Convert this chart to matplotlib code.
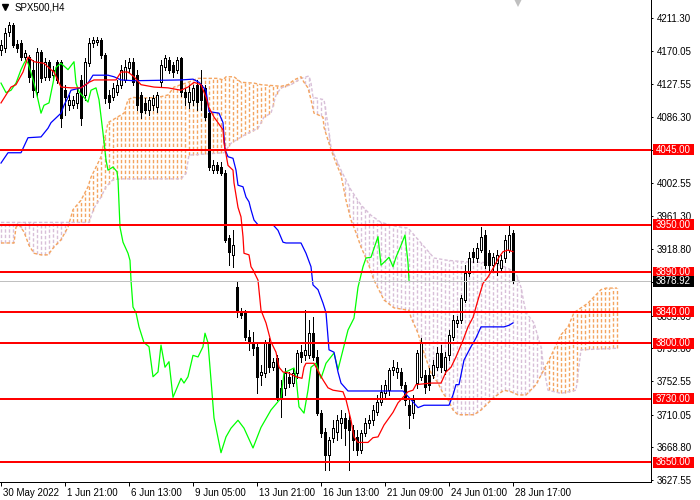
import numpy as np
import matplotlib
matplotlib.use("Agg")
import matplotlib.pyplot as plt
from matplotlib.patches import Rectangle
from matplotlib.transforms import blended_transform_factory

plt.rcParams['font.family'] = ['Liberation Sans', 'DejaVu Sans']
plt.rcParams['lines.scale_dashes'] = False

# SPX500 H4 candles (bar 0 = 30 May 2022)
opens = [4171, 4173, 4194, 4202, 4178, 4180, 4162, 4162, 4146, 4118,
         4168, 4137, 4156, 4139, 4156, 4156, 4120, 4101, 4101, 4104,
         4133, 4114, 4154, 4180, 4181, 4184, 4165, 4114, 4111, 4118,
         4127, 4133, 4148, 4156, 4139, 4114, 4104, 4095, 4101, 4099,
         4130, 4149, 4158, 4152, 4146, 4161, 4118, 4105, 4108, 4127,
         4127, 4123, 4091, 4019, 4025, 4023, 4015, 3933, 3912, 3871,
         3840, 3839, 3808, 3801, 3796, 3760, 3763, 3802, 3770, 3782,
         3744, 3744, 3758, 3750, 3763, 3789, 3786, 3786, 3813, 3783,
         3712, 3688, 3659, 3681, 3688, 3700, 3706, 3703, 3691, 3682,
         3665, 3687, 3700, 3703, 3713, 3726, 3737, 3741, 3767, 3764,
         3764, 3748, 3722, 3712, 3750, 3758, 3760, 3760, 3760, 3770,
         3788, 3767, 3786, 3808, 3826, 3830, 3855, 3889, 3916, 3908,
         3918, 3937, 3914, 3899, 3902, 3895, 3908, 3918, 3940]
highs = [4184, 4199, 4206, 4205, 4184, 4184, 4171, 4165, 4158, 4173,
         4171, 4161, 4158, 4151, 4158, 4158, 4127, 4114, 4113, 4123,
         4139, 4161, 4186, 4187, 4187, 4186, 4167, 4120, 4129, 4133,
         4152, 4158, 4161, 4161, 4146, 4118, 4110, 4111, 4114, 4118,
         4158, 4165, 4162, 4156, 4162, 4162, 4123, 4127, 4127, 4133,
         4146, 4127, 4095, 4032, 4029, 4029, 4019, 3937, 3943, 3878,
         3845, 3842, 3817, 3815, 3802, 3773, 3804, 3807, 3782, 3786,
         3754, 3769, 3764, 3769, 3792, 3798, 3842, 3830, 3834, 3792,
         3716, 3693, 3682, 3703, 3710, 3716, 3712, 3712, 3697, 3691,
         3691, 3706, 3710, 3722, 3735, 3748, 3754, 3769, 3779, 3777,
         3769, 3751, 3731, 3735, 3792, 3807, 3767, 3769, 3779, 3796,
         3798, 3789, 3817, 3836, 3835, 3861, 3899, 3916, 3921, 3927,
         3947, 3943, 3918, 3914, 3918, 3912, 3937, 3950, 3943]
lows = [4165, 4168, 4189, 4175, 4168, 4158, 4158, 4130, 4111, 4111,
        4130, 4133, 4133, 4134, 4129, 4074, 4089, 4095, 4098, 4098,
        4076, 4108, 4151, 4175, 4177, 4161, 4104, 4098, 4108, 4114,
        4123, 4130, 4143, 4127, 4095, 4085, 4091, 4089, 4095, 4093,
        4125, 4146, 4142, 4137, 4142, 4113, 4101, 4098, 4101, 4095,
        4095, 4082, 4019, 4015, 4015, 4013, 3928, 3899, 3897, 3834,
        3832, 3804, 3792, 3786, 3737, 3748, 3758, 3764, 3767, 3729,
        3707, 3735, 3745, 3746, 3756, 3777, 3779, 3782, 3779, 3710,
        3682, 3640, 3640, 3676, 3678, 3681, 3672, 3640, 3665, 3659,
        3662, 3683, 3693, 3697, 3710, 3722, 3731, 3735, 3760, 3756,
        3744, 3722, 3693, 3706, 3744, 3754, 3737, 3741, 3756, 3767,
        3764, 3761, 3779, 3804, 3821, 3826, 3852, 3885, 3903, 3903,
        3916, 3895, 3893, 3893, 3887, 3890, 3903, 3916, 3877]
closes = [4177, 4192, 4202, 4177, 4173, 4162, 4167, 4137, 4120, 4168,
          4135, 4156, 4137, 4146, 4133, 4085, 4111, 4108, 4108, 4117,
          4085, 4156, 4180, 4184, 4184, 4165, 4110, 4105, 4123, 4127,
          4146, 4149, 4156, 4130, 4101, 4093, 4095, 4108, 4110, 4114,
          4152, 4161, 4146, 4143, 4158, 4118, 4111, 4118, 4123, 4105,
          4108, 4086, 4023, 4025, 4019, 4015, 3931, 3916, 3924, 3840,
          3836, 3808, 3802, 3794, 3758, 3764, 3801, 3770, 3777, 3732,
          3732, 3763, 3750, 3763, 3788, 3783, 3792, 3813, 3783, 3712,
          3687, 3659, 3678, 3693, 3703, 3706, 3693, 3691, 3678, 3665,
          3687, 3700, 3703, 3716, 3726, 3739, 3748, 3767, 3770, 3769,
          3748, 3729, 3710, 3729, 3788, 3801, 3745, 3748, 3773, 3788,
          3770, 3783, 3811, 3830, 3830, 3858, 3889, 3908, 3909, 3921,
          3935, 3899, 3899, 3909, 3912, 3906, 3931, 3937, 3878.92]

# Ichimoku lines (bar position, price)
tenkan_x = [0, 2.5, 3.75, 5.5, 6.75, 8.25, 10.75, 12.5, 13.25, 15, 17.5, 20, 22, 23.25,
            28.75, 30, 31.75, 33.25, 35, 38.25, 41.75, 45, 46.75, 48.25, 50, 51.25, 52,
            53.25, 54.25, 55.5, 55.75, 56.75, 58, 58.25, 59.25, 60, 60.5, 60.75, 62, 62.5,
            63, 64.25, 65, 66.25, 67.5, 68.75, 69.5, 70.5, 71.75, 73.75, 75.25, 75.75,
            76.25, 78.25, 79.5, 80.5, 81.75, 83, 85.5, 86.25, 87.5, 88.25, 89.25, 91.75,
            93, 94.25, 95.75, 98, 99.25, 100.5, 101.75, 103, 103.75, 107.5, 110, 111.25,
            112.5, 113.75, 115.5, 116.75, 118, 119.25, 120.5, 121.75, 123.25, 124.5,
            125.5, 126.75, 128]
tenkan_y = [4104, 4124, 4127, 4143, 4162, 4156, 4154, 4146, 4143, 4124, 4123, 4123, 4130,
            4133, 4133, 4143, 4143, 4137, 4127, 4124, 4123, 4120, 4124, 4130, 4127, 4111,
            4098, 4086, 4079, 4070, 4053, 4025, 4019, 4003, 3972, 3960, 3935, 3914, 3912,
            3897, 3893, 3880, 3842, 3826, 3802, 3789, 3770, 3764, 3763, 3758, 3756, 3770,
            3775, 3775, 3763, 3754, 3744, 3741, 3739, 3729, 3703, 3682, 3675, 3675, 3681,
            3682, 3697, 3713, 3725, 3732, 3739, 3741, 3748, 3750, 3750, 3764, 3770, 3783,
            3804, 3821, 3833, 3855, 3876, 3884, 3897, 3909, 3916, 3918, 3916]

kijun_x = [0, 1.75, 5, 6.75, 10, 11.75, 12.5, 15, 15.75, 16.75, 17.5, 20, 21.75, 23,
           26.75, 28.25, 30, 33.25, 45, 48, 49.5, 51.25, 52, 54.5, 55.5, 56, 56.75, 58,
           58.75, 59.25, 60.5, 61.25, 62, 62.5, 63.25, 64.25, 68, 69.25, 70.5, 71.25, 75,
           76.25, 77.5, 78, 79.25, 80.5, 81.25, 81.75, 82, 83.25, 84.25, 85, 86.75, 100.5,
           102.5, 104.25, 105.75, 112, 113, 113.75, 114.5, 115.75, 117.5, 118.75, 120,
           125.75, 127, 128]
kijun_y = [4028, 4041, 4041, 4060, 4061, 4072, 4079, 4091, 4101, 4111, 4120, 4123, 4129,
           4139, 4139, 4137, 4133, 4132, 4133, 4134, 4130, 4120, 4093, 4091, 4079, 4045,
           4036, 4034, 4019, 4000, 3998, 3985, 3979, 3969, 3956, 3950, 3950, 3943, 3928,
           3927, 3927, 3914, 3897, 3874, 3868, 3851, 3839, 3808, 3792, 3789, 3764, 3750,
           3740, 3740, 3729, 3719, 3722, 3722, 3735, 3748, 3748, 3779, 3796, 3807, 3821,
           3821, 3823, 3826]

chikou_x = [0, 1.25, 2.5, 3.75, 5, 5.75, 6.25, 6.75, 7.5, 8.25,
            9.25, 10, 10.75, 12, 13, 13.75, 15, 16.75, 18.25, 18.75,
            19.5, 20.75, 21.75, 22.5, 23.75, 24.5, 25.5, 26.25, 26.75, 28,
            29, 29.25, 29.75, 30.5, 31.75, 32.25, 32.5, 33, 33.75, 34.5,
            35, 35.75, 37, 38, 39.25, 40, 41, 42, 43, 45,
            45.75, 46.75, 48, 49.25, 50.5, 51, 51.75, 52.5, 53.25, 55,
            56.25, 57.5, 59.25, 60.75, 63, 65, 67.5, 70, 70.75, 73.25,
            73.75, 74.5, 75.75, 76.75, 77.5, 78.75, 80, 81.25, 83.25, 84.25,
            85.5, 86.75, 88.25, 89.25, 90.5, 91.25, 92.5, 94.25, 95, 96.25,
            97, 98, 98.75, 100, 101, 101.75, 102]
chikou_y = [4129, 4117, 4120, 4129, 4146, 4154, 4158, 4154, 4142, 4129,
            4108, 4091, 4101, 4104, 4129, 4149, 4154, 4146, 4156, 4129,
            4118, 4111, 4105, 4120, 4123, 4108, 4066, 4032, 4019, 4023,
            4017, 4007, 3947, 3928, 3914, 3905, 3880, 3846, 3839, 3821,
            3813, 3801, 3796, 3758, 3764, 3798, 3770, 3777, 3732, 3756,
            3750, 3758, 3785, 3783, 3796, 3813, 3801, 3754, 3706, 3662,
            3682, 3693, 3703, 3693, 3668, 3694, 3716, 3731, 3763, 3769,
            3758, 3720, 3712, 3741, 3770, 3775, 3756, 3775, 3788, 3767,
            3792, 3817, 3832, 3871, 3897, 3908, 3909, 3935, 3899, 3905,
            3909, 3897, 3909, 3924, 3937, 3902, 3880]

senkou_a_x = [0, 3.25, 3.75, 4.5, 5.75, 7, 8.25, 10, 11.75, 13.25, 15, 16.75, 18, 20,
              21.75, 22.5, 24.25, 25, 26.75, 30.75, 31.75, 33, 35, 39.25, 41.75, 43.25,
              46.75, 49.25, 51.75, 54.25, 55.5, 56.25, 58.25, 60, 63.25, 65, 70, 71.75,
              73.25, 75, 75.75, 76.75, 77.5, 78.25, 79.25, 80.5, 80.75, 81.75, 82.5, 83.75,
              85, 86.25, 87.5, 88.75, 90, 91.75, 93.25, 95.75, 98.25, 102, 102.5, 104.25,
              105.75, 107.5, 109.25, 110.5, 111.75, 113, 114.25, 118.25, 120, 123.25,
              125.75, 127.5, 129.25, 131.25, 133.75, 137, 140, 141.75, 143.25, 146.75,
              150, 151.25, 154]
senkou_a_y = [3927, 3927, 3947, 3950, 3941, 3924, 3914, 3912, 3912, 3922, 3931, 3947, 3969,
              3981, 3998, 4010, 4028, 4036, 4079, 4091, 4108, 4111, 4110, 4111, 4114, 4124,
              4130, 4135, 4135, 4135, 4133, 4137, 4137, 4130, 4129, 4127, 4125, 4127, 4133,
              4137, 4130, 4123, 4108, 4091, 4089, 4086, 4073, 4057, 4045, 4028, 4013, 3981,
              3956, 3940, 3922, 3902, 3880, 3855, 3845, 3842, 3833, 3813, 3788, 3763, 3750,
              3737, 3729, 3716, 3710, 3710, 3716, 3732, 3741, 3739, 3735, 3735, 3748, 3779,
              3811, 3821, 3839, 3851, 3868, 3870, 3870]

senkou_b_x = [0, 22, 23.25, 25, 26.25, 28, 30, 45, 46.25, 47, 55.75, 57.5, 60.75, 64.25,
              65.75, 67.5, 68.75, 70, 72.5, 75, 77, 77.5, 78, 80.75, 81.75, 82.5, 85, 87.5,
              90, 92.5, 95, 98.75, 100, 101.75, 105, 108.25, 111.75, 116.75, 123.25,
              126.75, 128.75, 130, 130.75, 131.25, 133.25, 134.25, 135, 135.75, 136.75,
              140, 143.75, 145, 154]
senkou_b_y = [3953, 3953, 3971, 3985, 3998, 4007, 4008, 4008, 4015, 4038, 4041, 4053, 4063,
              4072, 4086, 4091, 4114, 4123, 4127, 4135, 4138, 4129, 4111, 4108, 4076, 4048,
              4019, 3994, 3975, 3962, 3953, 3948, 3947, 3946, 3927, 3908, 3905, 3903, 3902,
              3895, 3889, 3871, 3851, 3839, 3826, 3808, 3796, 3767, 3741, 3737, 3741, 3792,
              3794]

levels = [4045, 3950, 3890, 3840, 3800, 3730, 3650]
last_price = 3878.92
price_ticks = [4211.30, 4170.05, 4127.55, 4086.30, 4045.05, 4002.55, 3961.30, 3918.80,
               3877.55, 3835.05, 3793.80, 3752.55, 3710.05, 3668.80, 3627.55]
hidden_ticks = [4045.05, 3877.55]  # fully covered by the level tags
time_ticks = [0, 16, 32, 48, 64, 80, 96, 112, 128]
time_labels = ['30 May 2022', '1 Jun 21:00', '6 Jun 13:00', '9 Jun 05:00', '13 Jun 21:00',
               '16 Jun 13:00', '21 Jun 09:00', '24 Jun 01:00', '28 Jun 17:00']

PX = 0.72  # one pixel in points at dpi 100
DOT = (0, (2.4, 1.5))  # ~3px on, 2px off

fig = plt.figure(figsize=(7, 5), dpi=100)
ax = fig.add_axes([0, 18 / 500, 651 / 700, 482 / 500])
ax.set_xlim(-0.25, 162.5)
ax.set_ylim(3625.0, 4234.0)

# cloud hatching, one dotted column per bar
cloud_bars = np.arange(0, 155)
span_a = np.interp(cloud_bars, senkou_a_x, senkou_a_y)
span_b = np.interp(cloud_bars, senkou_b_x, senkou_b_y)
for k, a, b in zip(cloud_bars, span_a, span_b):
    col = '#F4A460' if a >= b else '#D8BFD8'
    ax.plot([k, k], [min(a, b), max(a, b)], color=col, lw=1.0, ls=DOT,
            solid_capstyle='butt', dash_capstyle='butt', zorder=1)
ax.plot(senkou_b_x, senkou_b_y, color='#D8BFD8', lw=1.0, ls=DOT, zorder=1.2)
ax.plot(senkou_a_x, senkou_a_y, color='#F4A460', lw=1.0, ls=DOT, zorder=1.2)

# candles
bars = np.arange(len(closes))
o = np.array(opens, dtype=float)
c = np.array(closes, dtype=float)
up = c >= o
ax.vlines(bars, lows, highs, color='black', lw=PX, antialiased=False, zorder=2)
ax.bar(bars, np.maximum(np.abs(c - o), 0.6), bottom=np.minimum(o, c), width=0.5,
       color=['white' if u else 'black' for u in up], edgecolor='black',
       linewidth=PX, antialiased=False, zorder=2.1)

# ichimoku lines
ax.plot(chikou_x, chikou_y, color='#00FF00', lw=0.9, zorder=3)
ax.plot(kijun_x, kijun_y, color='#0000FF', lw=0.9, zorder=3)
ax.plot(tenkan_x, tenkan_y, color='#FF0000', lw=0.9, zorder=3)

# price lines
ax.axhline(last_price, color='#C0C0C0', lw=PX, antialiased=False, zorder=3.5)
for lv in levels:
    ax.axhline(lv, color='#FF0000', lw=2 * PX, antialiased=False, zorder=4)

# right scale
ax.yaxis.tick_right()
ax.set_yticks(price_ticks)
ax.set_yticklabels(['' if v in hidden_ticks else '%.2f' % v for v in price_ticks])
ax.tick_params(axis='y', direction='out', length=2 * PX, width=PX, pad=4 * PX,
               labelsize=7, colors='black')
ax.set_xticks(time_ticks)
ax.set_xticklabels([])
ax.tick_params(axis='x', direction='out', length=4 * PX, width=PX)
for s in ['left', 'top']:
    ax.spines[s].set_visible(False)
for s in ['right', 'bottom']:
    ax.spines[s].set_linewidth(PX)

for t, lab in zip(time_ticks, time_labels):
    ax.annotate(lab, xy=(t, 0), xycoords=('data', 'axes fraction'),
                xytext=(2, -11), textcoords='offset pixels',
                ha='left', va='center', fontsize=7, annotation_clip=False)

# level tags on the scale, drawn on the figure so they sit above the tick labels
tr = blended_transform_factory(fig.transFigure, ax.transData)
box_h = 11 * (4234.0 - 3625.0) / 482
tags = [(lv, '#FF0000', '%.2f' % lv) for lv in levels] + [(last_price, 'black', '%.2f' % last_price)]
for val, col, txt in tags:
    fig.add_artist(Rectangle((653 / 700, val - box_h / 2), 41 / 700, box_h, transform=tr,
                             facecolor=col, edgecolor='none', zorder=6))
    fig.text(673.5 / 700, val, txt, transform=tr, ha='center', va='center',
             fontsize=7, color='white', zorder=7)

# header
ax.plot([5 / 651], [1 - 7 / 482], marker='v', markersize=4, color='black',
        transform=ax.transAxes, clip_on=False)
ax.text(15 / 651, 1 - 8 / 482, 'SPX500,H4', transform=ax.transAxes,
        ha='left', va='center', fontsize=7)
ax.plot([518 / 651], [1 - 2 / 482], marker='v', markersize=7, color='#C0C0C0',
        markeredgewidth=0, transform=ax.transAxes)

fig.savefig('out.png', dpi=100)
